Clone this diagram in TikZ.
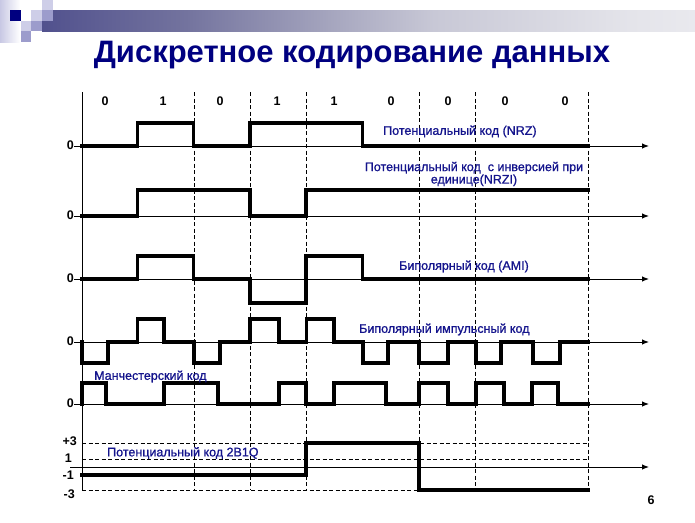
\documentclass[tikz,border=0pt]{standalone}
\usepackage{fontspec}
\setmainfont{Liberation Sans}
\newfontfamily\lblfont[FakeBold=1]{Liberation Sans}
\usetikzlibrary{arrows.meta}
\definecolor{titlenavy}{RGB}{0,0,128}
\definecolor{lblblue}{RGB}{20,20,140}
\definecolor{sqnavy}{RGB}{0,0,128}
\definecolor{sqlight}{RGB}{206,206,232}
\definecolor{sqmed}{RGB}{156,156,204}
\definecolor{stripl}{RGB}{200,200,228}
\definecolor{barA}{RGB}{25,25,115}
\definecolor{barB}{RGB}{50,50,125}
\definecolor{barC}{RGB}{78,78,140}
\definecolor{barD}{RGB}{115,115,158}
\definecolor{barE}{RGB}{165,165,190}
\definecolor{barF}{RGB}{200,200,214}
\definecolor{barG}{RGB}{228,228,234}
\definecolor{barH}{RGB}{243,243,246}
\pgfdeclarehorizontalshading{barshade}{100bp}{color(0bp)=(barA); color(12bp)=(barB); color(24bp)=(barC); color(36bp)=(barD); color(47bp)=(barE); color(55bp)=(barF); color(70bp)=(barG); color(85bp)=(barH); color(100bp)=(white)}
\tikzset{
  sig/.style={line width=3.2pt, line join=miter, line cap=rect},
  axis/.style={line width=1pt, -{Latex[length=7pt,width=5.5pt]}},
  vaxis/.style={line width=1pt},
  grid/.style={line width=0.9pt, dash pattern=on 4pt off 2.5pt},
  bit/.style={font=\bfseries\fontsize{12.5}{14}\selectfont, text=black, inner sep=0pt},
  lvl/.style={font=\bfseries\fontsize{12.5}{14}\selectfont, text=black, inner sep=0pt, anchor=east},
  lbl/.style={font=\lblfont\fontsize{12.5}{14}\selectfont, text=lblblue, inner sep=0pt},
}
\begin{document}
\begin{tikzpicture}[x=1pt,y=-1pt]
\useasboundingbox (0,0) rectangle (695,522);
% decoration
\shade[left color=stripl, right color=white] (0,0) rectangle (20,42);
\shade[shading=barshade] (42,10) rectangle (695,31);
\fill[sqlight] (42,0) rectangle (52.5,10);
\fill[sqnavy] (10,10) rectangle (21,21);
\fill[sqlight] (31,10) rectangle (42,21);
\fill[sqmed] (42,10) rectangle (52.5,21);
\fill[sqlight] (21,21) rectangle (31,31);
\fill[sqmed] (31,21) rectangle (42,31);
\fill[sqmed] (21,31) rectangle (31,42);
% title
\node[font=\bfseries\fontsize{31}{36}\selectfont, text=titlenavy, inner sep=0pt] (title) at (352,55) {Дискретное кодирование данных};
% bits
\foreach \x/\b [count=\i] in {105/0,163/1,220/0,277/1,334/1,391/0,448/0,505/0,565/0}
  \node[bit] (bit\i) at (\x,101.5) {\b};
% grid
\foreach \x in {194,250,306,419,475,588}
  \draw[grid] (\x,92) -- (\x,490);
\foreach \y in {443,459,490}
  \draw[grid] (82,\y) -- (588,\y);
\draw[vaxis] (82,92) -- (82,490);
% axes
\foreach \y in {146,216,279,342,404}
  \draw[axis] (74,\y) -- (649,\y);
\draw[axis] (70,467) -- (649,467);
% zero labels
\foreach \y [count=\i] in {146,216,279,342,404}
  \node[lvl] (zero\i) at (74,\y-0.5) {0};
\node[lvl] (p3) at (77,441.5) {+3};
\node[lvl] (p1) at (72,458.5) {1};
\node[lvl] (m1) at (74,475) {-1};
\node[lvl] (m3) at (75,494.5) {-3};
% NRZ
\draw[sig] (82,146) -- (137.5,146) -- (137.5,123) -- (193.5,123) -- (193.5,146) -- (250,146) -- (250,123) -- (362.5,123) -- (362.5,146) -- (588,146);
% NRZI
\draw[sig] (82,216) -- (137.5,216) -- (137.5,190) -- (250,190) -- (250,216) -- (306,216) -- (306,190) -- (588,190);
% AMI
\draw[sig] (82,279) -- (137.5,279) -- (137.5,256) -- (193.5,256) -- (193.5,279) -- (250,279) -- (250,303) -- (306,303) -- (306,256) -- (362.5,256) -- (362.5,279) -- (588,279);
% bipolar impulse
\draw[sig] (82,342) -- (82,363) -- (108,363) -- (108,342) -- (137.5,342) -- (137.5,319) -- (164,319) -- (164,342) -- (194,342) -- (194,363) -- (220,363) -- (220,342) -- (250,342) -- (250,319) -- (279,319) -- (279,342) -- (306.5,342) -- (306.5,319) -- (334,319) -- (334,342) -- (363,342) -- (363,363) -- (388,363) -- (388,342) -- (419,342) -- (419,363) -- (448,363) -- (448,342) -- (476,342) -- (476,363) -- (501,363) -- (501,342) -- (533,342) -- (533,363) -- (560,363) -- (560,342) -- (588,342);
% Manchester
\draw[sig] (82,404) -- (82,383) -- (106,383) -- (106,404) -- (164,404) -- (164,383) -- (218,383) -- (218,404) -- (279,404) -- (279,383) -- (306,383) -- (306,404) -- (334,404) -- (334,383) -- (386,383) -- (386,404) -- (419,404) -- (419,383) -- (448,383) -- (448,404) -- (476,404) -- (476,383) -- (504,383) -- (504,404) -- (532,404) -- (532,383) -- (558,383) -- (558,404) -- (588,404);
% 2B1Q
\draw[sig] (82,475) -- (306,475) -- (306,443) -- (419,443) -- (419,490) -- (588,490);
% labels
\node[lbl, anchor=west] (lnrz) at (383,131.5) {Потенциальный код (NRZ)};
\node[lbl, align=center] (lnrzi) at (474,174) {Потенциальный код \ с инверсией при\\[-1.5pt]единице(NRZI)};
\node[lbl, anchor=west] (lami) at (399,266.5) {Биполярный код (AMI)};
\node[lbl, anchor=west] (lbip) at (359,329.5) {Биполярный импульсный код};
\node[lbl, anchor=west] (lman) at (94,376.5) {Манчестерский код};
\node[lbl, anchor=west] (l2b1q) at (107,453) {Потенциальный код 2B1Q};
% page number
\node[bit] (page) at (651,500) {6};
\end{tikzpicture}
\end{document}
